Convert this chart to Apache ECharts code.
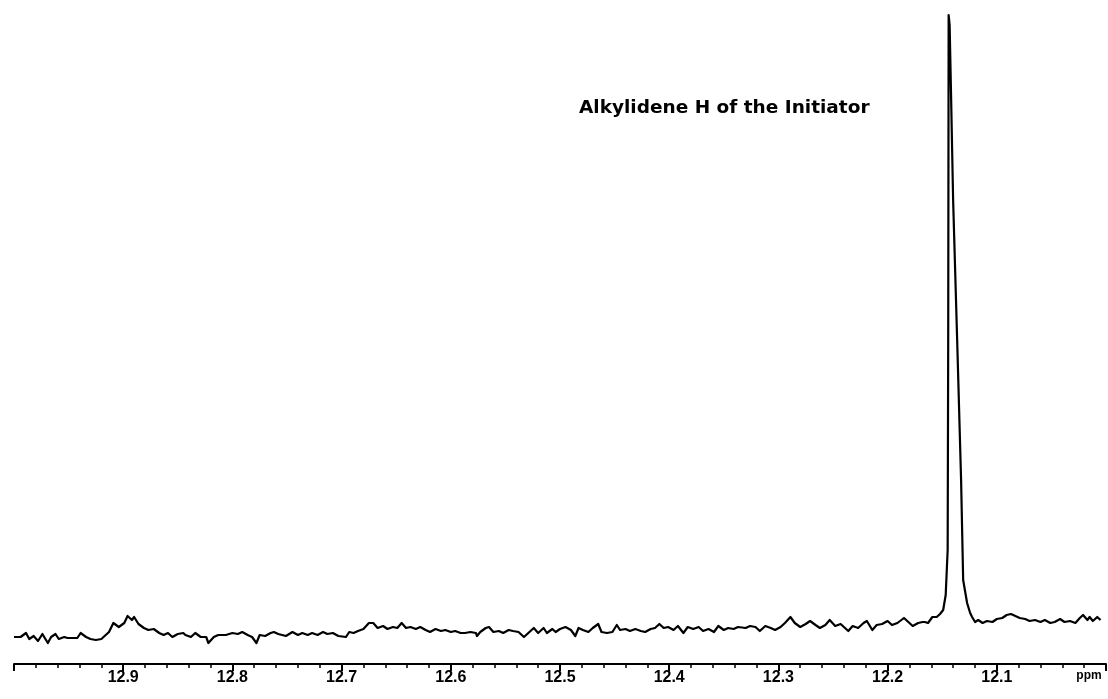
<!DOCTYPE html>
<html>
<head>
<meta charset="utf-8">
<script src="https://cdn.jsdelivr.net/npm/echarts@6/dist/echarts.min.js"></script>
<style>
html,body{margin:0;padding:0;background:#fff;}
#chart{width:1108px;height:699px;}
</style>
</head>
<body>
<div id="chart"></div>
<script>
// Chemical shift (ppm) of each sampled point, left to right
const shiftPpm = [
13.000,12.994,12.989,12.986,12.982,12.978,12.974,12.969,12.966,12.962,12.959,12.954,12.951,12.946,12.942,12.939,12.934,12.930,12.925,12.920,12.918,12.913,12.909,12.904,12.899,12.896,12.892,12.890,12.886,12.881,12.877,12.872,12.867,12.863,12.859,12.855,12.850,12.845,
12.843,12.838,12.834,12.829,12.824,12.822,12.817,12.813,12.806,12.800,12.795,12.791,12.786,12.782,12.778,12.775,12.770,12.765,12.762,12.758,12.751,12.745,12.740,12.736,12.731,12.727,12.722,12.717,12.713,12.708,12.703,12.696,12.693,12.689,12.685,12.680,12.675,
12.674,12.671,12.667,12.662,12.658,12.653,12.649,12.645,12.641,12.637,12.632,12.628,12.623,12.619,12.614,12.609,12.605,12.600,12.596,12.591,12.587,12.582,12.577,12.576,12.573,12.568,12.565,12.561,12.556,12.552,12.547,12.543,12.538,12.533,12.529,12.524,12.520,12.515,12.512,12.507,
12.504,12.500,12.495,12.490,12.486,12.483,12.479,12.474,12.470,12.465,12.462,12.457,12.452,12.448,12.445,12.440,12.436,12.431,12.426,12.422,12.417,12.413,12.409,12.405,12.401,12.396,12.392,12.387,12.383,12.378,12.373,12.369,12.364,12.359,12.355,12.350,12.346,12.341,12.337,
12.330,12.326,12.321,12.317,12.312,12.307,12.303,12.298,12.294,12.289,12.285,12.280,12.275,12.271,12.266,12.262,12.257,12.253,12.248,12.243,12.239,12.236,12.232,12.227,12.222,12.219,12.214,12.210,12.205,12.200,12.196,12.191,12.185,12.181,12.177,12.172,12.168,12.166,12.163,12.159,12.155,12.152,
12.1491,12.1468,12.1450,12.1445,12.1441,12.1432,12.1418,12.1400,12.1363,12.1327,12.1308,12.1272,12.1244,
12.1226,12.1199,12.117,12.113,12.109,12.104,12.100,12.095,12.091,12.087,12.083,12.079,12.074,12.070,12.065,12.060,12.056,12.051,12.047,12.042,12.038,12.033,12.028,12.024,12.021,12.017,12.015,12.012,12.008,12.005
];
// Signal intensity (arbitrary units) at each shift
const intensity = [
3,3,7,1,4,-1,6,-3,3,6,1,3,2,2,2,7,3,1,0,1,3,8,17,13,17,24,20,23,16,12,10,11,7,5,7,3,6,7,
5,3,7,3,3,-3,3,5,5,7,6,8,5,3,-3,5,4,7,8,6,4,8,5,7,5,7,5,8,6,7,4,3,8,7,9,11,17,
15,17,12,14,11,13,12,17,12,13,11,13,10,8,11,9,10,8,9,7,7,8,7,4,8,12,13,8,9,7,10,9,8,3,7,12,7,12,7,11,
8,11,13,10,4,12,10,8,12,16,8,7,8,15,10,11,9,11,9,8,11,12,16,12,13,10,14,7,13,11,13,9,11,8,14,10,12,11,13,
12,14,13,9,14,12,10,13,17,23,17,13,16,19,15,12,15,20,14,16,12,9,14,12,17,19,10,15,16,19,15,17,22,18,14,17,18,18,17,23,23,26,
30,45,90,300,625,615,540,440,300,160,60,37,27,
23,18,20,17,19,18,21,22,25,26,24,22,21,19,20,18,20,17,18,21,18,19,17,22,25,20,23,19,23,20
];
const axisMin = 12.0, axisMax = 13.0, axisStep = 0.1;
const unitLabel = 'ppm';
const annotation = 'Alkylidene H of the Initiator';

const chart = echarts.init(document.getElementById('chart'), null, {renderer: 'canvas'});
const data = shiftPpm.map((x, i) => [x, intensity[i]]);

chart.setOption({
  backgroundColor: '#ffffff',
  animation: false,
  title: {
    text: annotation,
    left: 574,
    top: 94,
    textStyle: {fontFamily: 'DejaVu Sans', fontSize: 18.5, fontWeight: 'bold', color: '#000'}
  },
  grid: {left: 14, right: 2, top: 15, bottom: 39},
  xAxis: {
    type: 'value',
    inverse: true,
    min: axisMin,
    max: axisMax,
    interval: axisStep,
    offset: 4,
    splitLine: {show: false},
    axisLine: {show: true, onZero: false, lineStyle: {color: '#000', width: 2}},
    axisTick: {show: true, inside: false, length: 7, lineStyle: {color: '#000', width: 2}},
    minorTick: {show: true, splitNumber: 5, length: 4, lineStyle: {color: '#000', width: 1.5}},
    minorSplitLine: {show: false},
    axisLabel: {
      show: true,
      showMinLabel: true,
      showMaxLabel: true,
      hideOverlap: false,
      margin: 6,
      color: '#000',
      fontFamily: 'Liberation Sans',
      fontSize: 16,
      fontWeight: 'bold',
      formatter: function (v) {
        if (Math.abs(v - axisMax) < 1e-6) return '';
        if (Math.abs(v - axisMin) < 1e-6) return '{u|' + unitLabel + '}';
        return v.toFixed(1);
      },
      rich: {
        u: {fontFamily: 'Liberation Sans', fontSize: 12, fontWeight: 'bold', color: '#000', padding: [0, 34, 0, 0]}
      }
    }
  },
  yAxis: {
    type: 'value',
    min: -20,
    max: 625,
    show: false,
    splitLine: {show: false}
  },
  series: [{
    type: 'line',
    data: data,
    symbol: 'none',
    smooth: false,
    clip: false,
    lineStyle: {color: '#000', width: 2.2, join: 'round'}
  }]
});
</script>
</body>
</html>
